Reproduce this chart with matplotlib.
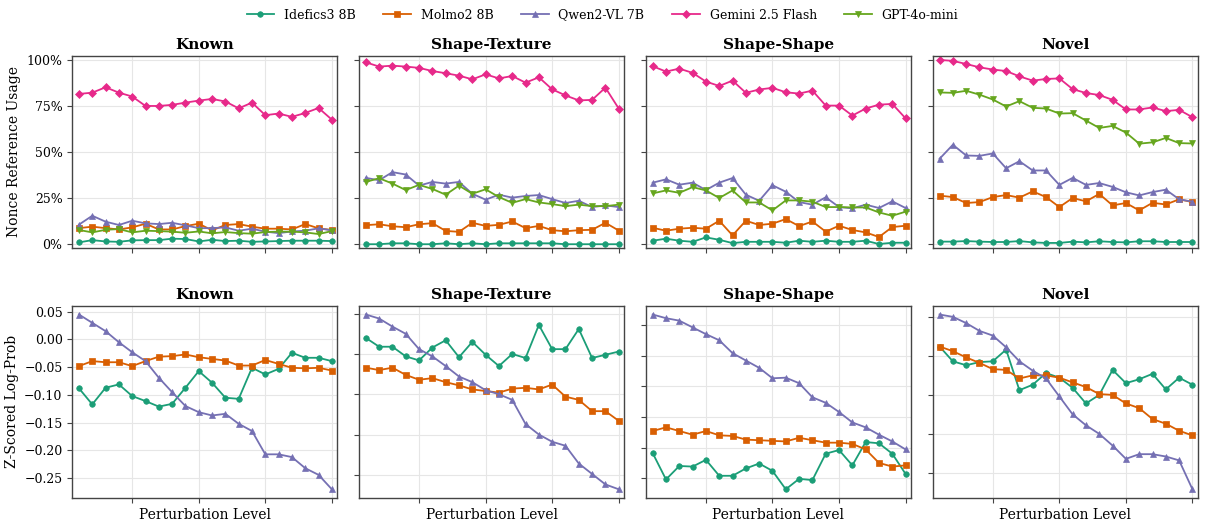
import matplotlib
matplotlib.use("Agg")
import matplotlib.pyplot as plt
from matplotlib.ticker import PercentFormatter

plt.rcParams["font.family"] = ["DejaVu Serif"]

levels = list(range(1, 21))
panels = ["Known", "Shape-Texture", "Shape-Shape", "Novel"]
models = ["Idefics3 8B", "Molmo2 8B", "Qwen2-VL 7B", "Gemini 2.5 Flash", "GPT-4o-mini"]
colors = ["#1b9e77", "#d95f02", "#7570b3", "#e7298a", "#66a61e"]
markers = ["o", "s", "^", "D", "v"]
msizes = [4.0, 4.0, 5.0, 4.5, 5.0]

# nonce reference usage (%) per panel, per model
usage_known = {
    "Idefics3 8B": [1.1, 2.3, 1.6, 1.4, 2.2, 2.3, 2.3, 3.1, 2.9, 1.6, 2.5, 1.8, 2.0, 1.4, 1.6, 1.8, 2.0, 2.0, 2.0, 1.8],
    "Molmo2 8B": [8.8, 9.6, 8.8, 8.1, 9.2, 11.2, 8.1, 8.1, 9.9, 11.2, 7.6, 10.5, 11.0, 9.6, 8.5, 8.5, 8.1, 11.0, 8.7, 7.8],
    "Qwen2-VL 7B": [10.7, 15.5, 12.3, 10.5, 12.8, 11.4, 11.0, 11.7, 10.3, 8.8, 8.8, 9.2, 7.4, 8.5, 6.9, 6.1, 7.0, 7.4, 8.7, 7.6],
    "Gemini 2.5 Flash": [81.4, 82.1, 85.0, 82.1, 80.0, 74.9, 74.9, 75.5, 76.7, 77.8, 78.7, 77.3, 73.6, 76.7, 69.9, 70.8, 69.0, 71.1, 73.8, 67.5],
    "GPT-4o-mini": [7.8, 6.5, 7.9, 8.3, 6.5, 7.4, 7.2, 6.9, 6.3, 7.0, 6.0, 6.7, 6.1, 5.8, 6.7, 6.9, 6.9, 6.5, 5.6, 7.2],
}
usage_shape_texture = {
    "Idefics3 8B": [0.1, 0.1, 0.6, 0.6, 0.1, 0.1, 0.6, 0.1, 0.6, 0.1, 0.6, 0.6, 0.6, 0.6, 0.6, 0.1, 0.1, 0.1, 0.1, 0.1],
    "Molmo2 8B": [10.4, 10.9, 9.8, 9.3, 10.9, 11.5, 7.3, 6.8, 11.7, 10.0, 10.6, 12.4, 8.8, 10.0, 7.7, 7.1, 7.7, 7.9, 11.7, 7.5],
    "Qwen2-VL 7B": [36.0, 34.7, 39.1, 37.8, 31.8, 33.8, 32.9, 33.8, 27.4, 24.2, 26.9, 25.3, 26.2, 26.7, 24.5, 22.4, 23.6, 20.2, 21.1, 20.2],
    "Gemini 2.5 Flash": [98.5, 96.2, 96.7, 96.2, 95.5, 93.8, 92.6, 91.3, 89.3, 92.0, 89.8, 91.1, 87.5, 90.4, 83.9, 80.6, 77.9, 78.2, 84.8, 73.5],
    "GPT-4o-mini": [33.8, 35.8, 32.9, 29.4, 32.2, 30.0, 26.9, 31.8, 27.4, 29.8, 25.6, 22.5, 24.5, 22.7, 21.8, 20.7, 21.5, 20.7, 20.7, 21.5],
}
usage_shape_shape = {
    "Idefics3 8B": [2.0, 3.1, 2.0, 1.4, 3.8, 2.5, 0.7, 1.4, 1.4, 1.4, 0.9, 2.0, 1.4, 2.0, 1.4, 1.4, 2.0, 0.2, 0.9, 0.9],
    "Molmo2 8B": [9.0, 7.4, 8.5, 9.0, 8.5, 12.8, 4.9, 12.8, 10.5, 11.2, 13.7, 9.9, 12.4, 6.9, 10.1, 7.8, 6.5, 4.0, 9.4, 10.1],
    "Qwen2-VL 7B": [33.4, 35.2, 32.3, 33.4, 29.4, 33.4, 35.9, 26.9, 23.6, 32.0, 28.5, 22.9, 21.5, 25.5, 20.2, 19.5, 21.5, 19.7, 23.3, 19.7],
    "Gemini 2.5 Flash": [96.4, 93.5, 95.1, 92.8, 88.1, 85.7, 88.6, 82.0, 83.8, 84.7, 82.3, 81.6, 83.2, 75.1, 75.1, 69.7, 73.5, 75.6, 76.0, 68.2],
    "GPT-4o-mini": [27.6, 29.2, 27.9, 31.0, 29.2, 25.1, 29.2, 22.7, 22.7, 18.4, 23.8, 23.8, 23.1, 20.2, 20.2, 20.0, 20.0, 17.3, 15.5, 17.7],
}
usage_novel = {
    "Idefics3 8B": [1.5, 1.5, 1.8, 1.5, 1.3, 1.3, 1.8, 1.1, 0.8, 0.8, 1.5, 1.1, 1.7, 1.3, 1.1, 1.7, 1.7, 1.3, 1.3, 1.3],
    "Molmo2 8B": [26.4, 25.6, 22.4, 22.9, 25.6, 26.7, 25.3, 28.7, 25.6, 20.2, 25.1, 23.3, 27.3, 21.1, 22.4, 18.4, 22.5, 21.6, 24.4, 22.9],
    "Qwen2-VL 7B": [46.3, 53.9, 48.1, 47.9, 49.2, 41.2, 45.0, 40.0, 40.0, 32.2, 36.0, 32.2, 33.2, 31.1, 28.2, 26.5, 28.3, 29.6, 24.4, 23.1],
    "Gemini 2.5 Flash": [99.8, 99.3, 97.6, 95.8, 94.6, 93.8, 90.9, 88.6, 89.5, 89.8, 84.0, 81.9, 80.8, 78.2, 73.0, 73.0, 74.1, 72.1, 72.8, 68.8],
    "GPT-4o-mini": [82.2, 82.0, 83.1, 81.0, 78.4, 74.6, 77.5, 73.9, 73.5, 70.8, 71.0, 67.0, 63.0, 64.1, 60.5, 54.5, 55.2, 57.6, 54.8, 54.6],
}

# z-scored log-prob of the nonce reference (open-weight models only)
logprob_known = {
    "Idefics3 8B": [-0.088, -0.117, -0.087, -0.081, -0.102, -0.111, -0.121, -0.116, -0.087, -0.057, -0.078, -0.105, -0.107, -0.051, -0.063, -0.053, -0.024, -0.033, -0.033, -0.039],
    "Molmo2 8B": [-0.048, -0.039, -0.041, -0.041, -0.048, -0.039, -0.031, -0.030, -0.027, -0.032, -0.035, -0.038, -0.047, -0.047, -0.037, -0.044, -0.051, -0.052, -0.051, -0.056],
    "Qwen2-VL 7B": [0.045, 0.030, 0.015, -0.005, -0.023, -0.039, -0.069, -0.095, -0.120, -0.131, -0.137, -0.134, -0.152, -0.165, -0.207, -0.207, -0.212, -0.232, -0.244, -0.270],
}
logprob_shape_texture = {
    "Idefics3 8B": [0.020, 0.009, 0.009, -0.003, -0.008, 0.008, 0.017, -0.004, 0.015, -0.001, -0.015, 0.000, -0.005, 0.036, 0.006, 0.006, 0.031, -0.005, -0.001, 0.003],
    "Molmo2 8B": [-0.017, -0.020, -0.017, -0.026, -0.032, -0.030, -0.035, -0.039, -0.044, -0.046, -0.048, -0.043, -0.042, -0.044, -0.038, -0.053, -0.057, -0.071, -0.071, -0.083],
    "Qwen2-VL 7B": [0.049, 0.044, 0.034, 0.025, 0.006, -0.003, -0.015, -0.028, -0.035, -0.045, -0.050, -0.057, -0.087, -0.100, -0.109, -0.114, -0.136, -0.149, -0.162, -0.168],
}
logprob_shape_shape = {
    "Idefics3 8B": [-0.209, -0.252, -0.230, -0.231, -0.220, -0.246, -0.246, -0.234, -0.226, -0.238, -0.268, -0.251, -0.253, -0.210, -0.204, -0.229, -0.191, -0.193, -0.210, -0.243],
    "Molmo2 8B": [-0.173, -0.167, -0.173, -0.179, -0.173, -0.180, -0.181, -0.187, -0.188, -0.189, -0.190, -0.184, -0.188, -0.192, -0.192, -0.194, -0.203, -0.225, -0.231, -0.229],
    "Qwen2-VL 7B": [0.017, 0.011, 0.007, -0.004, -0.015, -0.025, -0.046, -0.058, -0.070, -0.087, -0.086, -0.095, -0.118, -0.127, -0.142, -0.159, -0.167, -0.179, -0.190, -0.203],
}
logprob_novel = {
    "Idefics3 8B": [0.012, -0.007, -0.012, -0.008, -0.007, 0.008, -0.044, -0.037, -0.022, -0.028, -0.041, -0.061, -0.050, -0.018, -0.035, -0.030, -0.023, -0.043, -0.028, -0.037],
    "Molmo2 8B": [0.012, 0.006, -0.002, -0.009, -0.017, -0.018, -0.029, -0.025, -0.025, -0.028, -0.034, -0.040, -0.049, -0.050, -0.061, -0.067, -0.081, -0.087, -0.096, -0.102],
    "Qwen2-VL 7B": [0.053, 0.050, 0.042, 0.032, 0.026, 0.011, -0.007, -0.019, -0.029, -0.052, -0.075, -0.089, -0.100, -0.115, -0.132, -0.126, -0.126, -0.129, -0.134, -0.171],
}

usage = [usage_known, usage_shape_texture, usage_shape_shape, usage_novel]
logprob = [logprob_known, logprob_shape_texture, logprob_shape_shape, logprob_novel]

fig, axes = plt.subplots(2, 4, figsize=(12.05, 5.27), dpi=100)
fig.subplots_adjust(left=0.06, right=0.994, top=0.894, bottom=0.055,
                    wspace=0.083, hspace=0.30)


def draw(ax, series):
    for name, c, m, ms in zip(models, colors, markers, msizes):
        if name not in series:
            continue
        ax.plot(levels, series[name], color=c, marker=m, markersize=ms,
                linewidth=1.3, label=name, markeredgewidth=0.5,
                markeredgecolor=c)
    ax.set_xlim(0.5, 20.4)
    ax.set_xticks([5, 10, 15, 20])
    ax.tick_params(axis="x", labelbottom=False, length=3.5, color="#444444")
    ax.tick_params(axis="y", length=3.5, labelsize=9, color="#444444")
    ax.grid(True, color="#e6e6e6", linewidth=0.8)
    ax.set_axisbelow(True)
    for sp in ax.spines.values():
        sp.set_color("#444444")
        sp.set_linewidth(1.0)


for j, title in enumerate(panels):
    top = axes[0, j]
    draw(top, usage[j])
    top.set_ylim(-2, 102)
    top.set_yticks([0, 25, 50, 75, 100])
    top.yaxis.set_major_formatter(PercentFormatter(100, decimals=0))
    top.set_title(title, fontsize=11, fontweight="bold", pad=5)

    bot = axes[1, j]
    draw(bot, logprob[j])
    bot.set_title(title, fontsize=11, fontweight="bold", pad=5)
    bot.set_xlabel("Perturbation Level", fontsize=10)

    if j > 0:
        top.tick_params(axis="y", labelleft=False)
        bot.tick_params(axis="y", labelleft=False)

axes[0, 0].set_ylabel("Nonce Reference Usage", fontsize=10)
axes[1, 0].set_ylabel("Z-Scored Log-Prob", fontsize=10)

handles, labels = axes[0, 0].get_legend_handles_labels()
fig.legend(handles, labels, loc="upper center", ncol=5, frameon=False,
           fontsize=9, bbox_to_anchor=(0.5, 1.005), columnspacing=2.2,
           handlelength=2.2)

fig.savefig("out.png", dpi=100)
